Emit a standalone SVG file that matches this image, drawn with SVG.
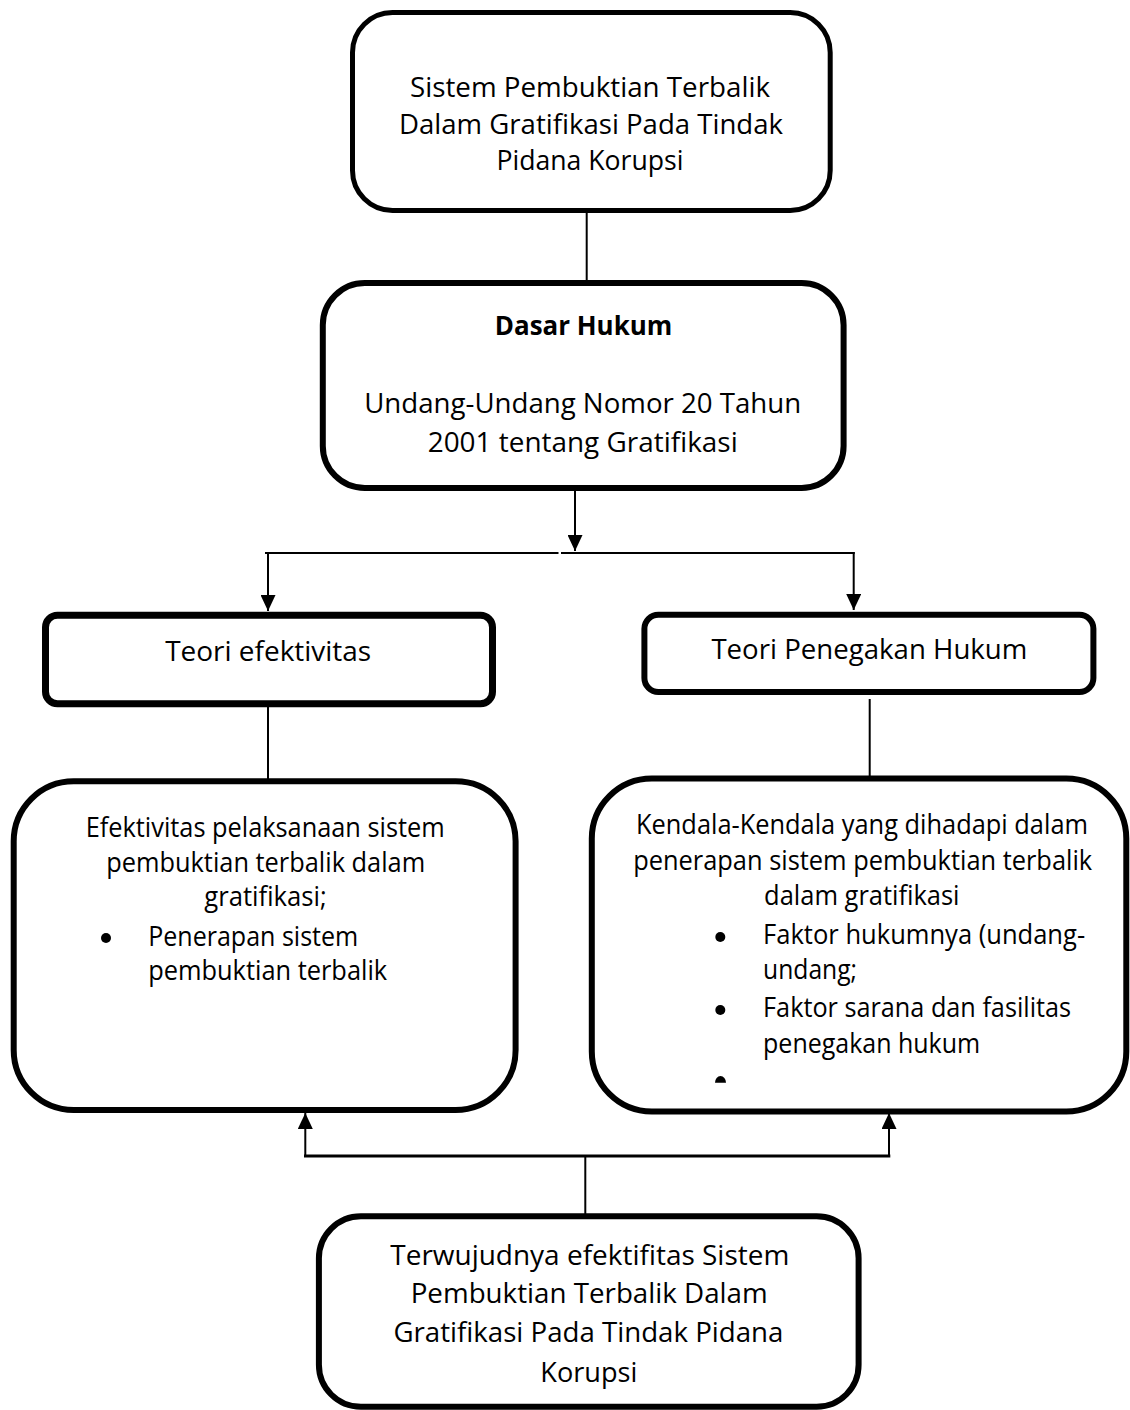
<svg xmlns="http://www.w3.org/2000/svg" width="1130" height="1410" viewBox="0 0 1130 1410">
<style>
.box{fill:#fff;stroke:#000}
.t{font-family:"Open Sans","Liberation Sans",sans-serif;font-size:27.5px;fill:#000}
.s{font-size:26.5px}
.m{text-anchor:middle}
.b{font-weight:bold}
.c{stroke:#000;stroke-width:2;fill:none}
</style>
<defs>
<marker id="ah" viewBox="0 0 16 15" refX="16" refY="7.5" markerWidth="16" markerHeight="15" markerUnits="userSpaceOnUse" orient="auto">
<path d="M0,0 L16,7.5 L0,15 z" fill="#000"/>
</marker>
</defs>
<rect width="1130" height="1410" fill="#fff"/>
<g id="connectors">
<line class="c" x1="586.7" y1="213" x2="586.7" y2="281"/>
<line class="c" x1="575" y1="491" x2="575" y2="551" marker-end="url(#ah)"/>
<line class="c" x1="265" y1="553" x2="558.5" y2="553"/>
<line class="c" x1="561" y1="553" x2="854.7" y2="553"/>
<line class="c" x1="268" y1="552" x2="268" y2="611" marker-end="url(#ah)"/>
<line class="c" x1="853.7" y1="552" x2="853.7" y2="610" marker-end="url(#ah)"/>
<line class="c" x1="268" y1="707" x2="268" y2="780"/>
<line class="c" x1="869.7" y1="699" x2="869.7" y2="777"/>
<line class="c" x1="305.3" y1="1157" x2="305.3" y2="1113" marker-end="url(#ah)"/>
<line class="c" x1="889" y1="1157" x2="889" y2="1113" marker-end="url(#ah)"/>
<line class="c" style="stroke-width:3" x1="304" y1="1156" x2="890.3" y2="1156"/>
<line class="c" x1="585.3" y1="1157" x2="585.3" y2="1215"/>
</g>
<g id="node1">
<rect class="box" x="352.5" y="12.5" width="477.7" height="198" rx="40" style="stroke-width:5"/>
<text class="t m" x="590" y="97" textLength="360" lengthAdjust="spacingAndGlyphs">Sistem Pembuktian Terbalik</text>
<text class="t m" x="591" y="133.5" textLength="384" lengthAdjust="spacingAndGlyphs">Dalam Gratifikasi Pada Tindak</text>
<text class="t m" x="590" y="170" textLength="187" lengthAdjust="spacingAndGlyphs">Pidana Korupsi</text>
</g>
<g id="node2">
<rect class="box" x="322.8" y="283" width="520.8" height="205" rx="42" style="stroke-width:6"/>
<text class="t m b" x="583.5" y="335" textLength="177.5" lengthAdjust="spacingAndGlyphs">Dasar Hukum</text>
<text class="t m" x="582.7" y="413" textLength="437" lengthAdjust="spacingAndGlyphs">Undang-Undang Nomor 20 Tahun</text>
<text class="t m" x="582.7" y="452" textLength="310" lengthAdjust="spacingAndGlyphs">2001 tentang Gratifikasi</text>
</g>
<g id="node3">
<rect class="box" x="45.5" y="615.2" width="447" height="88.6" rx="12" style="stroke-width:7"/>
<text class="t m" x="268.2" y="661" textLength="206" lengthAdjust="spacingAndGlyphs">Teori efektivitas</text>
</g>
<g id="node4">
<rect class="box" x="644.4" y="614.7" width="449" height="77.3" rx="14" style="stroke-width:6"/>
<text class="t m" x="869.4" y="659" textLength="316" lengthAdjust="spacingAndGlyphs">Teori Penegakan Hukum</text>
</g>
<g id="node5">
<rect class="box" x="13.7" y="781.3" width="501.9" height="328.7" rx="60" style="stroke-width:6"/>
<text class="t s m" x="265.2" y="837" textLength="359" lengthAdjust="spacingAndGlyphs">Efektivitas pelaksanaan sistem</text>
<text class="t s m" x="265.7" y="872" textLength="319" lengthAdjust="spacingAndGlyphs">pembuktian terbalik dalam</text>
<text class="t s m" x="265.5" y="906" textLength="122.5" lengthAdjust="spacingAndGlyphs">gratifikasi;</text>
<circle cx="106" cy="938" r="5"/>
<text class="t s" x="148.2" y="946" textLength="210" lengthAdjust="spacingAndGlyphs">Penerapan sistem</text>
<text class="t s" x="148.2" y="980" textLength="239" lengthAdjust="spacingAndGlyphs">pembuktian terbalik</text>
</g>
<g id="node6">
<rect class="box" x="591.8" y="778.5" width="534.5" height="333" rx="60" style="stroke-width:6"/>
<text class="t s m" x="862" y="834" textLength="452" lengthAdjust="spacingAndGlyphs">Kendala-Kendala yang dihadapi dalam</text>
<text class="t s m" x="862.7" y="870" textLength="459" lengthAdjust="spacingAndGlyphs">penerapan sistem pembuktian terbalik</text>
<text class="t s" x="764.1" y="905" textLength="195.4" lengthAdjust="spacingAndGlyphs">dalam gratifikasi</text>
<circle cx="720.3" cy="937" r="5"/>
<text class="t s" x="763.1" y="944" textLength="322" lengthAdjust="spacingAndGlyphs">Faktor hukumnya (undang-</text>
<text class="t s" x="763.1" y="979" textLength="94" lengthAdjust="spacingAndGlyphs">undang;</text>
<circle cx="720.3" cy="1010" r="5"/>
<text class="t s" x="763.1" y="1017" textLength="308" lengthAdjust="spacingAndGlyphs">Faktor sarana dan fasilitas</text>
<text class="t s" x="763.1" y="1053" textLength="217" lengthAdjust="spacingAndGlyphs">penegakan hukum</text>
<path d="M715,1082.7 A5.5,6.7 0 0 1 726,1082.7 Z" fill="#000"/>
</g>
<g id="node7">
<rect class="box" x="318.9" y="1216.3" width="539.7" height="190.5" rx="42" style="stroke-width:6"/>
<text class="t m" x="589.8" y="1265" textLength="399" lengthAdjust="spacingAndGlyphs">Terwujudnya efektifitas Sistem</text>
<text class="t m" x="589.2" y="1303.3" textLength="357" lengthAdjust="spacingAndGlyphs">Pembuktian Terbalik Dalam</text>
<text class="t m" x="588.4" y="1342.3" textLength="390" lengthAdjust="spacingAndGlyphs">Gratifikasi Pada Tindak Pidana</text>
<text class="t m" x="588.8" y="1381.7" textLength="97" lengthAdjust="spacingAndGlyphs">Korupsi</text>
</g>
</svg>
